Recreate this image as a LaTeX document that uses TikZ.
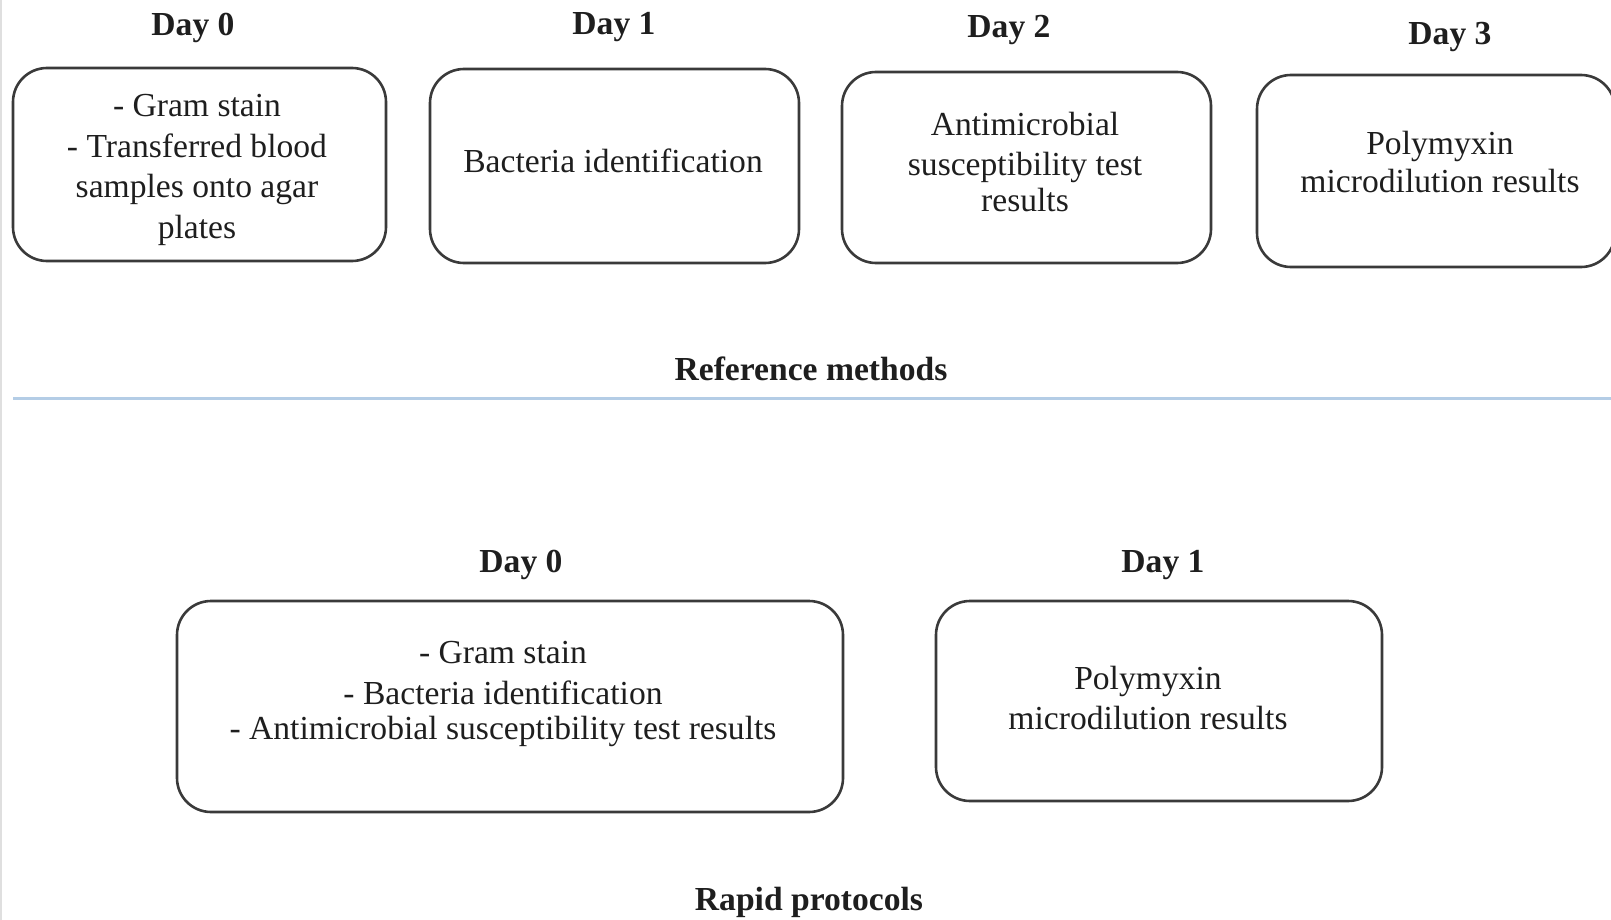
\documentclass[tikz,border=0pt]{standalone}
\usepackage{fontspec}
\setmainfont{Liberation Serif}
\definecolor{boxline}{HTML}{3A3A3A}
\definecolor{txtcol}{HTML}{1E1E1E}
\definecolor{sepblue}{HTML}{B4CDE6}
\begin{document}
\begin{tikzpicture}[x=0.5pt,y=-0.5pt,
  box/.style={draw=boxline,line width=1.3pt,rounded corners=17pt,inner sep=0pt},
  txt/.style={text=txtcol,align=center,inner sep=0pt,font=\fontsize{16.8pt}{20.3pt}\selectfont},
  daylab/.style={text=txtcol,inner sep=0pt,font=\fontsize{16.8pt}{20pt}\selectfont\bfseries}]
\useasboundingbox (0,0) rectangle (1611,920);
\draw[gray!25,line width=1pt] (1,0) -- (1,920);
% Reference methods
\node[daylab] (d0) at (193,28) {Day 0};
\node[daylab] (d1) at (614,27) {Day 1};
\node[daylab] (d2) at (1009,30) {Day 2};
\node[daylab] (d3) at (1450,37) {Day 3};
\node[box,minimum width=186.5pt,minimum height=96.5pt] (b1) at (199.5,164.5) {};
\node[box,minimum width=184.5pt,minimum height=97pt] (b2) at (614.5,166) {};
\node[box,minimum width=184.5pt,minimum height=95.5pt] (b3) at (1026.5,167.5) {};
\node[box,minimum width=179pt,minimum height=96pt] (b4) at (1436,171) {};
\node[txt] (t1) at (197,170) {- Gram stain\\- Transferred blood\\samples onto agar\\plates};
\node[txt] (t2) at (613,161) {Bacteria identification};
\node[txt] (t3) at (1025,162) {Antimicrobial\\susceptibility test\\[-2.5pt]results};
\node[txt] (t4) at (1440,162) {Polymyxin\\[-1.5pt]microdilution results};
\node[daylab] (rm) at (811,369) {Reference methods};
\coordinate (sepL) at (13,398);
\coordinate (sepR) at (1611,398);
\draw[sepblue,line width=1.5pt] (sepL) -- (sepR);
% Rapid protocols
\node[daylab] (e0) at (521,565) {Day 0};
\node[daylab] (e1) at (1163,565) {Day 1};
\node[box,minimum width=333pt,minimum height=105.5pt] (b5) at (510,706.5) {};
\node[box,minimum width=223pt,minimum height=100pt] (b6) at (1159,701) {};
\node[txt] (t5) at (503,694) {- Gram stain\\- Bacteria identification\\[-2.5pt]- Antimicrobial susceptibility test results};
\node[txt] (t6) at (1148,698) {Polymyxin\\microdilution results};
\node[daylab] (rp) at (809,902) {Rapid protocols};
\end{tikzpicture}
\end{document}
